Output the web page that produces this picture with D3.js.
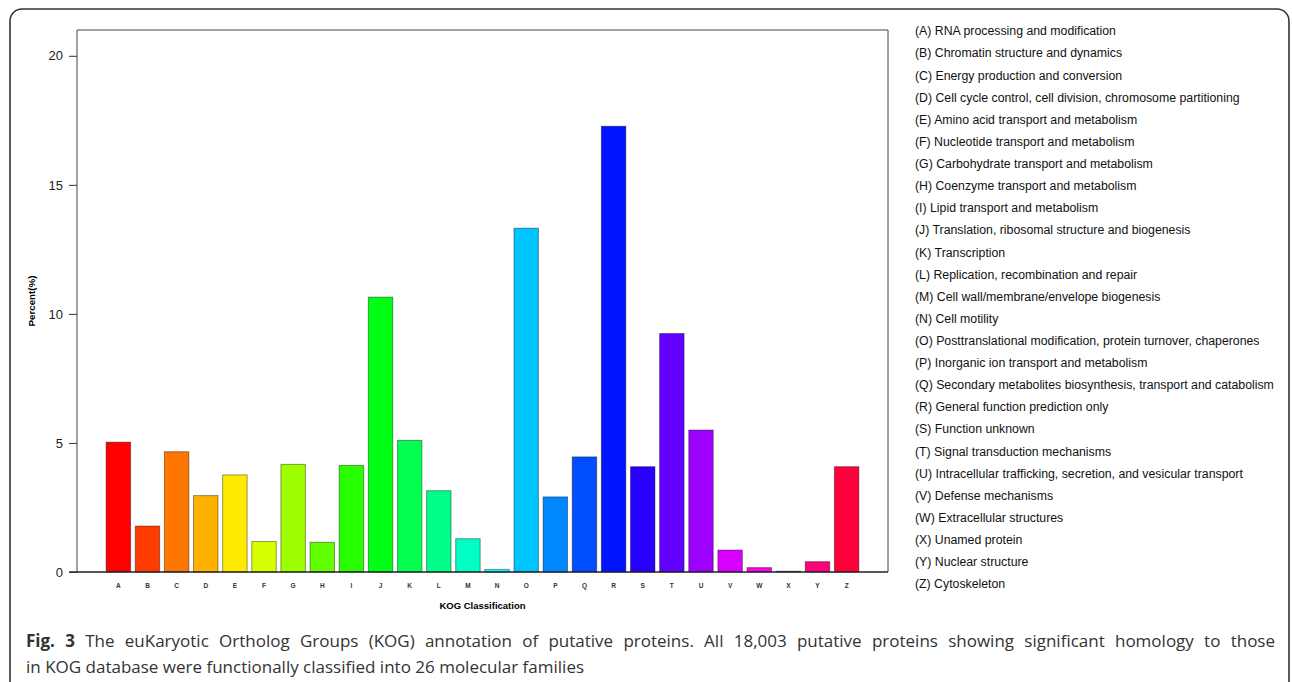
<!DOCTYPE html>
<html lang="en">
<head>
<meta charset="UTF-8">
<title>KOG classification</title>
<script src="https://d3js.org/d3.v7.min.js"></script>
<style>
    body { margin: 0; background: #fff; }
    svg { display: block; }
    .axis text { font-family: "Liberation Sans", Arial, sans-serif; }
    .legend-text { font-family: "Liberation Sans", Arial, sans-serif; font-size: 12.3px; fill: #111; }
    .caption { font-family: "Open Sans", "Noto Sans", sans-serif; font-size: 17px; fill: #333; }
</style>
</head>
<body>
<div id="chart"></div>
<script>
    const width = 1292;
    const height = 682;

    // KOG categories and their share (%)
    const codes = ["A","B","C","D","E","F","G","H","I","J","K","L","M",
                   "N","O","P","Q","R","S","T","U","V","W","X","Y","Z"];
    const percents = [5.03, 1.78, 4.66, 2.96, 3.76, 1.18, 4.17, 1.15, 4.13, 10.65, 5.10, 3.15, 1.29,
                      0.10, 13.32, 2.91, 4.46, 17.27, 4.08, 9.24, 5.50, 0.85, 0.17, 0.03, 0.40, 4.08];
    const descriptions = [
        "RNA processing and modification",
        "Chromatin structure and dynamics",
        "Energy production and conversion",
        "Cell cycle control, cell division, chromosome partitioning",
        "Amino acid transport and metabolism",
        "Nucleotide transport and metabolism",
        "Carbohydrate transport and metabolism",
        "Coenzyme transport and metabolism",
        "Lipid transport and metabolism",
        "Translation, ribosomal structure and biogenesis",
        "Transcription",
        "Replication, recombination and repair",
        "Cell wall/membrane/envelope biogenesis",
        "Cell motility",
        "Posttranslational modification, protein turnover, chaperones",
        "Inorganic ion transport and metabolism",
        "Secondary metabolites biosynthesis, transport and catabolism",
        "General function prediction only",
        "Function unknown",
        "Signal transduction mechanisms",
        "Intracellular trafficking, secretion, and vesicular transport",
        "Defense mechanisms",
        "Extracellular structures",
        "Unamed protein",
        "Nuclear structure",
        "Cytoskeleton"
    ];
    const yTicks = [0, 5, 10, 15, 20];

    const data = codes.map((c, i) => ({ code: c, value: percents[i], label: "(" + c + ") " + descriptions[i] }));

    // rainbow palette like R's rainbow(n)
    const color = (d, i) => d3.hsl(i * 360 / codes.length, 1, 0.5).formatHex();

    const plot = { left: 77, right: 888, top: 30, bottom: 572 };

    const svg = d3.select("#chart")
        .append("svg")
        .attr("width", width)
        .attr("height", height);

    // figure frame
    svg.append("rect")
        .attr("x", 10).attr("y", 9)
        .attr("width", 1279).attr("height", 700)
        .attr("rx", 12)
        .attr("fill", "none")
        .attr("stroke", "#333")
        .attr("stroke-width", 1.6);

    const x = d3.scaleBand()
        .domain(codes)
        .range([plot.left, plot.right])
        .paddingInner(0.16)
        .paddingOuter(1);

    const y = d3.scaleLinear()
        .domain([0, 21])
        .range([plot.bottom, plot.top]);

    // plot box (top, left, right)
    svg.append("path")
        .attr("d", `M${plot.left},${plot.bottom}V${plot.top}H${plot.right}V${plot.bottom}`)
        .attr("fill", "none")
        .attr("stroke", "#444")
        .attr("stroke-width", 1);

    svg.selectAll(".bar")
        .data(data)
        .enter()
        .append("rect")
        .attr("class", "bar")
        .attr("x", d => x(d.code))
        .attr("y", d => y(d.value))
        .attr("width", x.bandwidth())
        .attr("height", d => y(0) - y(d.value))
        .attr("fill", color)
        .attr("stroke", "rgba(0,0,0,0.4)")
        .attr("stroke-width", 1);

    // baseline
    svg.append("line")
        .attr("x1", plot.left - 8).attr("x2", plot.right)
        .attr("y1", y(0)).attr("y2", y(0))
        .attr("stroke", "#222")
        .attr("stroke-width", 1.5);

    // y axis
    const yAxis = svg.append("g")
        .attr("class", "axis")
        .attr("transform", `translate(${plot.left},0)`)
        .call(d3.axisLeft(y).tickValues(yTicks).tickSize(8).tickPadding(6));
    yAxis.select(".domain").remove();
    yAxis.selectAll("line").attr("stroke", "#333");
    yAxis.selectAll("text").style("font-size", "13px").attr("fill", "#222");

    // x axis letters
    const xAxis = svg.append("g")
        .attr("class", "axis")
        .attr("transform", `translate(0,${y(0)})`)
        .call(d3.axisBottom(x).tickSize(0).tickPadding(11));
    xAxis.select(".domain").remove();
    xAxis.selectAll("text")
        .style("font-size", "6.5px")
        .style("font-weight", "bold")
        .attr("fill", "#333");

    svg.append("text")
        .attr("x", (plot.left + plot.right) / 2)
        .attr("y", 609)
        .attr("text-anchor", "middle")
        .style("font-family", "Liberation Sans, Arial, sans-serif")
        .style("font-size", "9.5px")
        .style("font-weight", "bold")
        .text("KOG Classification");

    svg.append("text")
        .attr("transform", `translate(35,${(plot.top + plot.bottom) / 2}) rotate(-90)`)
        .attr("text-anchor", "middle")
        .style("font-family", "Liberation Sans, Arial, sans-serif")
        .style("font-size", "9.8px")
        .style("font-weight", "bold")
        .text("Percent(%)");

    // legend
    svg.selectAll(".legend-text")
        .data(data)
        .enter()
        .append("text")
        .attr("class", "legend-text")
        .attr("x", 915)
        .attr("y", (d, i) => 31 + i * 22.12)
        .attr("dy", "0.35em")
        .text(d => d.label);

    // caption (first line justified to the frame width)
    const capLeft = 26, capRight = 1275;
    const cap1 = svg.append("text")
        .attr("class", "caption")
        .attr("x", capLeft)
        .attr("y", 647);
    cap1.append("tspan").style("font-weight", "bold").text("Fig. 3");
    cap1.append("tspan").text(" The euKaryotic Ortholog Groups (KOG) annotation of putative proteins. All 18,003 putative proteins showing significant homology to those");

    const natural = cap1.node().getComputedTextLength();
    const gaps = (cap1.text().match(/ /g) || []).length;
    cap1.style("word-spacing", Math.max(0, (capRight - capLeft - natural) / gaps) + "px");

    svg.append("text")
        .attr("class", "caption")
        .attr("x", capLeft)
        .attr("y", 673)
        .text("in KOG database were functionally classified into 26 molecular families");
</script>
</body>
</html>
